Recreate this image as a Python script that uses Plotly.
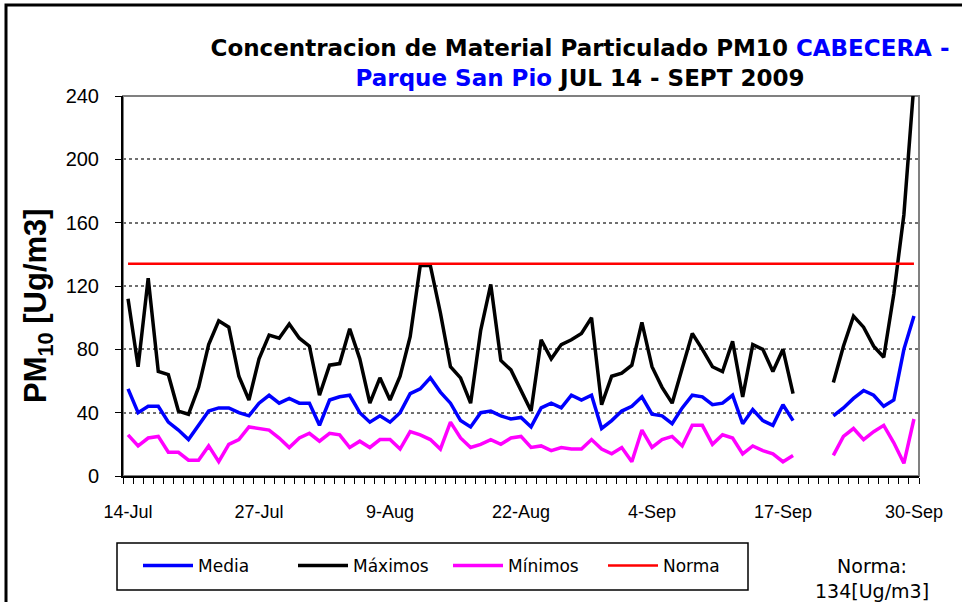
import pandas as pd
import plotly.graph_objects as go

dates = pd.date_range("2009-07-14", "2009-09-30", freq="D")

media = [55, 40, 44, 44, 34, 29, 23, 32, 41, 43, 43, 40, 38, 46, 51, 46, 49, 46, 46, 32,
         48, 50, 51, 40, 34, 38, 34, 40, 52, 55, 62, 53, 46, 35, 31, 40, 41, 38, 36, 37,
         31, 43, 46, 43, 51, 48, 51, 30, 35, 41, 44, 50, 39, 38, 33, 43, 51, 50, 45, 46,
         51, 33, 42, 35, 32, 45, 35, None, None, None, 38, 43, 49, 54, 51, 44, 48, 80, 101]
maximos = [112, 69, 125, 66, 64, 41, 39, 56, 83, 98, 94, 63, 48, 74, 89, 87, 96, 87, 82, 51,
           70, 71, 93, 74, 46, 62, 48, 63, 88, 133, 133, 103, 69, 62, 46, 92, 121, 73, 67, 54,
           41, 86, 74, 83, 86, 90, 100, 45, 63, 65, 70, 97, 69, 56, 46, 68, 90, 80, 69, 66,
           85, 50, 83, 80, 66, 80, 52, None, None, None, 59, 82, 101, 94, 82, 75, 115, 165, 248]
minimos = [26, 19, 24, 25, 15, 15, 10, 10, 19, 9, 20, 23, 31, 30, 29, 24, 18, 24, 27, 22,
           27, 26, 18, 22, 18, 23, 23, 17, 28, 26, 23, 17, 34, 24, 18, 20, 23, 20, 24, 25,
           18, 19, 16, 18, 17, 17, 23, 17, 14, 18, 9, 29, 18, 23, 25, 19, 32, 32, 20, 26,
           24, 14, 19, 16, 14, 9, 13, None, None, None, 13, 25, 30, 23, 28, 32, 21, 8, 36]
norma_value = 134
norma = [norma_value] * len(dates)

tick_dates = ["2009-07-14", "2009-07-27", "2009-08-09", "2009-08-22",
              "2009-09-04", "2009-09-17", "2009-09-30"]
tick_labels = ["14-Jul", "27-Jul", "9-Aug", "22-Aug", "4-Sep", "17-Sep", "30-Sep"]
y_ticks = [0, 40, 80, 120, 160, 200, 240]

fig = go.Figure()
fig.add_trace(go.Scatter(x=dates, y=media, name="Media", mode="lines",
                         line=dict(color="#0000FF", width=3.5)))
fig.add_trace(go.Scatter(x=dates, y=maximos, name="Máximos", mode="lines",
                         line=dict(color="#000000", width=3.5)))
fig.add_trace(go.Scatter(x=dates, y=minimos, name="Mínimos", mode="lines",
                         line=dict(color="#FF00FF", width=3.5)))
fig.add_trace(go.Scatter(x=dates, y=norma, name="Norma", mode="lines",
                         line=dict(color="#FF0000", width=2.5)))

L, R, T, B = 123, 43, 96, 126
W, H = 962, 602
pw, ph = W - L - R, H - T - B

def px(x):
    return (x - L) / pw

def py(y):
    return (H - B - y) / ph

fig.update_layout(
    width=W, height=H,
    margin=dict(l=L, r=R, t=T, b=B, autoexpand=False),
    paper_bgcolor="white", plot_bgcolor="white",
    font=dict(family="Liberation Sans, Arial", color="black"),
    title=dict(
        text="Concentracion de Material Particulado PM10 <span style='color:#0000FF'>CABECERA -</span><br>"
             "<span style='color:#0000FF'>Parque San Pio</span> JUL 14 - SEPT 2009",
        xref="container", yref="container", x=580 / W, xanchor="center",
        y=1 - 56 / H, yanchor="top",
        font=dict(family="DejaVu Sans", size=23, color="black", weight="bold"),
    ),
    showlegend=True,
    legend=dict(orientation="h", x=px(138), y=py(566), xanchor="left", yanchor="middle",
                bgcolor="rgba(0,0,0,0)", borderwidth=0,
                font=dict(family="DejaVu Sans", size=17),
                itemwidth=50, entrywidth=90, entrywidthmode="pixels"),
    xaxis=dict(
        range=["2009-07-13 12:00", "2009-09-30 12:00"],
        tickvals=tick_dates, ticktext=tick_labels, ticks="",
        ticklabelstandoff=18,
        tickfont=dict(size=18, family="Liberation Sans, Arial"),
        showline=True, linecolor="black", linewidth=2, showgrid=False, zeroline=False,
        minor=dict(ticks="outside", tick0="2009-07-13 12:00", dtick=86400000,
                   ticklen=6, tickcolor="black", tickwidth=1, showgrid=False),
    ),
    yaxis=dict(
        range=[0, 240], tickvals=y_ticks, ticks="outside", ticklen=6, tickcolor="black",
        tickfont=dict(size=20, family="Liberation Sans, Arial"),
        ticklabelstandoff=12,
        showline=True, linecolor="black", linewidth=2, zeroline=False,
        showgrid=True, gridcolor="#707070", gridwidth=1.5, griddash="dot",
    ),
)

fig.add_annotation(xref="paper", yref="paper", x=px(38), y=py(306),
                   xanchor="center", yanchor="middle", textangle=-90,
                   text="<b>PM<sub>10</sub> [Ug/m3]</b>", showarrow=False,
                   font=dict(family="Liberation Sans, Arial", size=31))

fig.add_shape(type="rect", xref="paper", yref="paper", x0=0, x1=1, y0=0, y1=1,
              line=dict(color="#808080", width=2), layer="below")
fig.add_shape(type="rect", xref="paper", yref="paper",
              x0=px(6), x1=px(975), y0=py(615), y1=py(5),
              line=dict(color="black", width=3))
fig.add_shape(type="rect", xref="paper", yref="paper",
              x0=px(117), x1=px(748), y0=py(590), y1=py(543),
              line=dict(color="black", width=1.5))
fig.add_annotation(xref="paper", yref="paper", x=px(872), y=py(578),
                   xanchor="center", yanchor="middle",
                   text="Norma:<br>134[Ug/m3]", showarrow=False,
                   font=dict(family="DejaVu Sans", size=19), align="center")

fig.write_html("out.html", config={"displayModeBar": False},
               post_script="document.body.style.margin='0';document.body.style.padding='0';")
